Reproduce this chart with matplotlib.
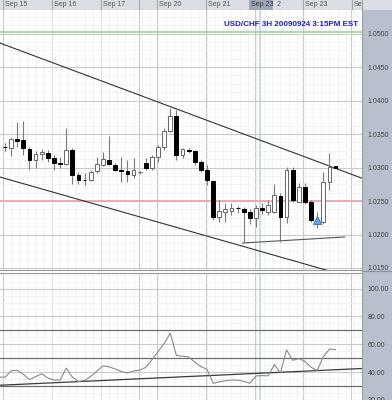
import numpy as np
import matplotlib.pyplot as plt
from matplotlib.patches import Rectangle

plt.rcParams['font.family'] = ['Liberation Sans', 'DejaVu Sans']

W, H = 392, 400

# 3H candles, USD/CHF
opens = [1.0331, 1.0329, 1.0343, 1.0341, 1.0328, 1.0311, 1.0320, 1.0322, 1.0314, 1.0306,
         1.0305, 1.0326, 1.0289, 1.0282, 1.0281, 1.0295, 1.0304, 1.0311, 1.0304, 1.0296,
         1.0295, 1.0289, 1.0293, 1.0307, 1.0299, 1.0316, 1.0331, 1.0354, 1.0377, 1.0319,
         1.0326, 1.0325, 1.0308, 1.0296, 1.0280, 1.0226, 1.0234, 1.0235, 1.0240, 1.0238,
         1.0234, 1.0225, 1.0240, 1.0234, 1.0234, 1.0257, 1.0226, 1.0296, 1.0249, 1.0271,
         1.0249, 1.0219, 1.0219, 1.0278, 1.0302]
highs = [1.0336, 1.0344, 1.0368, 1.0369, 1.0331, 1.0325, 1.0328, 1.0326, 1.0319, 1.0316,
         1.0359, 1.0329, 1.0293, 1.0292, 1.0296, 1.0316, 1.0323, 1.0347, 1.0307, 1.0316,
         1.0311, 1.0314, 1.0295, 1.0314, 1.0319, 1.0334, 1.0359, 1.0389, 1.0386, 1.0329,
         1.0329, 1.0326, 1.0311, 1.0304, 1.0281, 1.0252, 1.0247, 1.0247, 1.0243, 1.0241,
         1.0238, 1.0244, 1.0247, 1.0252, 1.0275, 1.0262, 1.0301, 1.0301, 1.0277, 1.0277,
         1.0252, 1.0234, 1.0293, 1.0322, 1.0302]
lows = [1.0324, 1.0317, 1.0331, 1.0318, 1.0298, 1.0299, 1.0311, 1.0308, 1.0296, 1.0299,
        1.0304, 1.0275, 1.0275, 1.0274, 1.0280, 1.0292, 1.0302, 1.0304, 1.0295, 1.0278,
        1.0278, 1.0284, 1.0291, 1.0296, 1.0296, 1.0308, 1.0326, 1.0353, 1.0311, 1.0314,
        1.0322, 1.0304, 1.0293, 1.0274, 1.0222, 1.0219, 1.0219, 1.0229, 1.0232, 1.0187,
        1.0216, 1.0211, 1.0231, 1.0229, 1.0232, 1.0189, 1.0217, 1.0248, 1.0248, 1.0246,
        1.0219, 1.0210, 1.0215, 1.0266, 1.0299]
closes = [1.0330, 1.0343, 1.0340, 1.0329, 1.0311, 1.0320, 1.0323, 1.0314, 1.0307, 1.0305,
          1.0326, 1.0289, 1.0281, 1.0281, 1.0293, 1.0305, 1.0313, 1.0305, 1.0296, 1.0295,
          1.0290, 1.0296, 1.0293, 1.0299, 1.0316, 1.0331, 1.0354, 1.0377, 1.0319, 1.0328,
          1.0324, 1.0308, 1.0296, 1.0281, 1.0226, 1.0235, 1.0238, 1.0240, 1.0239, 1.0234,
          1.0225, 1.0240, 1.0237, 1.0244, 1.0259, 1.0226, 1.0296, 1.0251, 1.0271, 1.0249,
          1.0222, 1.0222, 1.0278, 1.0301, 1.0299]

# oscillator, first value belongs to the bar before the first candle
rsi = [36.5, 36.3, 41.0, 41.3, 38.5, 34.6, 36.8, 38.8, 35.8, 34.3,
       34.3, 42.9, 36.5, 33.3, 34.0, 36.9, 40.7, 44.5, 43.8, 42.3,
       40.5, 39.4, 40.8, 41.4, 43.4, 48.9, 54.7, 60.5, 68.0, 52.0,
       51.5, 50.9, 47.3, 44.0, 42.0, 32.0, 33.0, 33.8, 34.3, 34.3,
       33.4, 32.0, 37.3, 37.5, 37.4, 45.5, 39.4, 56.0, 48.5, 49.7,
       47.8, 43.5, 41.2, 51.0, 56.5, 56.2]

# drawn trend lines (bar index, value)
upper_x, upper_y = [-0.82, 58.24], [1.04858, 1.02843]
lower_x, lower_y = [-0.82, 53.0], [1.02858, 1.01455]
support_x, support_y = [38.8, 55.5], [1.01873, 1.01963]
rsi_trend_x, rsi_trend_y = [-0.82, 58.24], [30.6, 42.6]

day_lines = [-0.33, 7.67, 15.66, 21.86, 24.8, 32.79, 40.78, 48.61, 56.6]
day_labels = ['Sep 15', 'Sep 16', 'Sep 17', '', 'Sep 20', 'Sep 21', '', 'Sep 23', 'Se']

signal_x, signal_y = 50.9, 1.0221

opens, highs, lows, closes = map(np.array, (opens, highs, lows, closes))
idx = np.arange(len(opens))


def box(x0, y0, x1, y1):
    return [x0 / W, 1 - y1 / H, (x1 - x0) / W, (y1 - y0) / H]


fig = plt.figure(figsize=(W / 100, H / 100), dpi=100)
fig.patch.set_facecolor('white')

# grey price scale on the right
fig.add_artist(Rectangle((362 / W, 0), 30 / W, 390 / H, transform=fig.transFigure,
                         facecolor='#b9bfcd', edgecolor='none', zorder=0))
fig.add_artist(Rectangle((362 / W, 390 / H), 30 / W, 10 / H, transform=fig.transFigure,
                         facecolor='#dcdee5', edgecolor='none', zorder=0))
fig.add_artist(plt.Line2D([362 / W, 362 / W], [0, 1], transform=fig.transFigure,
                          color='#9a9fab', lw=0.8))
fig.add_artist(plt.Line2D([362 / W, 1], [1 - 271 / H, 1 - 271 / H], transform=fig.transFigure,
                          color='#8a90a0', lw=0.8))

xlim = (-0.816, 58.24)

ax = fig.add_axes(box(0, 10, 362, 269.5))
ax2 = fig.add_axes(box(0, 273, 362, 400))
hax = fig.add_axes(box(0, 0, 362, 10))

for a in (ax, ax2):
    a.set_xlim(*xlim)
    a.set_xticks(day_lines)
    a.set_xticks(np.arange(-0.33, 58.5, 1.333), minor=True)
    a.tick_params(axis='x', which='both', length=0, labelbottom=False)
    a.yaxis.tick_right()
    a.tick_params(axis='y', which='both', length=0, pad=4, labelsize=5, labelcolor='#444')
    a.grid(True, which='major', color='#cacaca', lw=0.8)
    a.grid(True, which='minor', color='#eeeeee', lw=0.5)
    a.set_axisbelow(True)
    for s in a.spines.values():
        s.set_visible(False)

# price panel
ax.set_ylim(1.014776, 1.05351)
ax.set_yticks(np.arange(1.015, 1.0501, 0.005))
ax.set_yticklabels([f'{v:.4f}' for v in np.arange(1.015, 1.0501, 0.005)])
ax.set_yticks(np.arange(1.015, 1.0535, 0.00125), minor=True)
ax.spines['bottom'].set_visible(True)
ax.spines['bottom'].set_color('#999999')

ax.axvspan(41.45, 41.85, color='#cdd8ec', lw=0, zorder=0.5)
ax2.axvspan(41.45, 41.85, color='#cdd8ec', lw=0, zorder=0.5)

ax.axhline(1.05018, color='#8fd68f', lw=1.1)
ax.axhline(1.0250, color='#e9a9a9', lw=1.3)

ax.plot(upper_x, upper_y, color='#333333', lw=0.8)
ax.plot(lower_x, lower_y, color='#333333', lw=0.8)
ax.plot(support_x, support_y, color='#555555', lw=0.8)

up = closes >= opens
ax.vlines(idx, lows, highs, color='#7a7a7a', lw=0.8, zorder=3)
bottoms = np.minimum(opens, closes)
heights = np.abs(closes - opens)
ax.bar(idx[up], heights[up], bottom=bottoms[up], width=0.62,
       facecolor='white', edgecolor='#666666', lw=0.7, zorder=4)
ax.bar(idx[~up], heights[~up], bottom=bottoms[~up], width=0.62,
       facecolor='black', edgecolor='black', lw=0.7, zorder=4)

ax.plot(signal_x, signal_y, marker='^', ms=6, color='#5aaae8',
        mec='#2f6fb5', mew=0.6, zorder=5)

ax.text(358 / 362, 1 - 14 / 259.5, 'USD/CHF 3H 20090924 3:15PM EST', transform=ax.transAxes,
        ha='right', va='center', fontsize=5.8, color='#1c1cf0', fontweight='bold')

# oscillator panel
ax2.set_ylim(21.4, 111.2)
ax2.set_yticks([20, 40, 60, 80, 100])
ax2.set_yticklabels([f'{v:.2f}' for v in [20, 40, 60, 80, 100]])
ax2.set_yticks(np.arange(20, 112, 5), minor=True)
ax2.spines['top'].set_visible(True)
ax2.spines['top'].set_color('#999999')
for lvl in (70, 50, 30):
    ax2.axhline(lvl, color='#6e6e6e', lw=0.9)
ax2.plot(rsi_trend_x, rsi_trend_y, color='#3a3a3a', lw=0.9)
ax2.plot(np.arange(-1, len(rsi) - 1), rsi, color='#8a8a8a', lw=0.8)

# date header
hax.set_xlim(*xlim)
hax.set_ylim(0, 1)
hax.set_facecolor('#dcdee5')
hax.set_xticks([])
hax.set_yticks([])
for s in hax.spines.values():
    s.set_visible(False)
hax.axhline(0, color='#9a9a9a', lw=0.8)
for xl, lab in zip(day_lines, day_labels):
    hax.axvline(xl, color='#a8a8a8', lw=0.8)
    hax.text(xl + 0.3, 0.5, lab, fontsize=5, color='#555555', va='center', ha='left')
hax.add_patch(Rectangle((39.8, 0), 3.9, 1, facecolor='#9ea6bc', edgecolor='none'))
hax.text(40.1, 0.5, 'Sep 23', fontsize=5, color='#333333', va='center', ha='left')
hax.text(44.3, 0.5, '2', fontsize=5, color='#555555', va='center', ha='left')

fig.savefig('out.png', dpi=100, facecolor=fig.get_facecolor())
